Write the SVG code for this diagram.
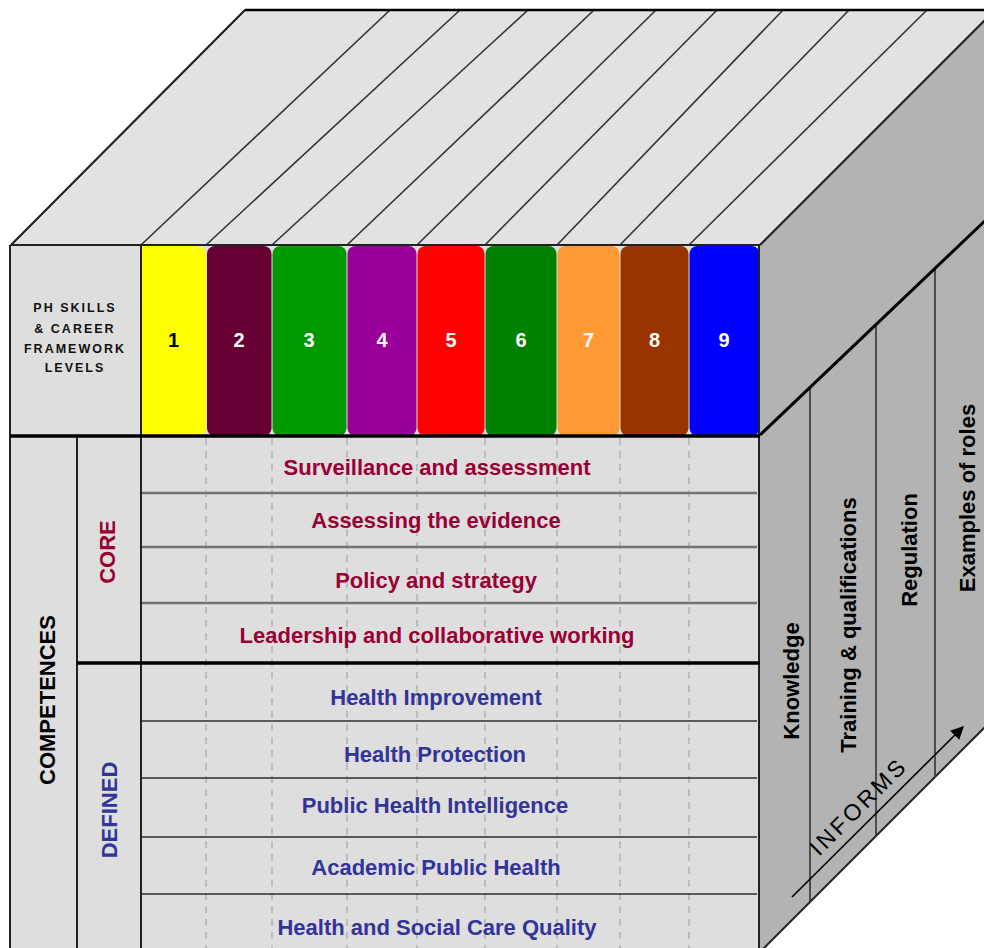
<svg xmlns="http://www.w3.org/2000/svg" width="984" height="948" viewBox="0 0 984 948">
<defs>
<style>
.face-top{fill:#e2e2e2;stroke:#222;stroke-width:1.5}
.face-right{fill:#b3b3b3;stroke:none}
.face-front{fill:#dedede;stroke:none}
.edge{stroke:#222;stroke-width:2;fill:none}
.thick{stroke:#000;stroke-width:3.5;fill:none}
.topline{stroke:#333;stroke-width:1.6;fill:none}
.coreline{stroke:#737373;stroke-width:2.6}
.defline{stroke:#2e2e2e;stroke-width:1.6}
.dash{stroke:#b3b3b3;stroke-width:1.5;stroke-dasharray:7 6}
.rline{stroke:#333;stroke-width:1.6}
.lvl{font-family:"Liberation Sans",Arial,sans-serif;font-weight:bold;font-size:20px;text-anchor:middle}
.hdr{font-family:"Liberation Sans",Arial,sans-serif;font-weight:bold;font-size:12.5px;letter-spacing:2px;text-anchor:middle;fill:#111}
.row{font-family:"Liberation Sans",Arial,sans-serif;font-weight:bold;font-size:22px;text-anchor:middle}
.side{font-family:"Liberation Sans",Arial,sans-serif;font-weight:bold;font-size:22px;text-anchor:middle;fill:#000}
.core{fill:#990033}
.def{fill:#333399}
.informs{font-family:"Liberation Sans",Arial,sans-serif;font-size:23px;letter-spacing:3px;text-anchor:middle;fill:#000}
</style>
<marker id="arrow" viewBox="0 0 10 10" refX="9" refY="5" markerWidth="15" markerHeight="13" orient="auto" markerUnits="userSpaceOnUse">
<path d="M0,0 L10,5 L0,10 z" fill="#000"/>
</marker>
</defs>
<rect x="0" y="0" width="984" height="948" fill="#ffffff"/>

<g id="cube-top">
<polygon class="face-top" points="11,245 245,10 995,10 760,245"/>
<line class="topline" x1="141" y1="245" x2="390" y2="10"/>
<line class="topline" x1="206" y1="245" x2="460" y2="10"/>
<line class="topline" x1="272" y1="245" x2="528" y2="10"/>
<line class="topline" x1="347" y1="245" x2="594" y2="10"/>
<line class="topline" x1="417" y1="245" x2="656" y2="10"/>
<line class="topline" x1="485" y1="245" x2="717" y2="10"/>
<line class="topline" x1="557" y1="245" x2="783" y2="10"/>
<line class="topline" x1="620" y1="245" x2="849" y2="10"/>
<line class="topline" x1="689" y1="245" x2="927" y2="10"/>
<line x1="245" y1="10" x2="990" y2="10" stroke="#000" stroke-width="2.5"/>
<line class="edge" x1="11" y1="245" x2="245" y2="10"/>
</g>

<g id="cube-right">
<polygon class="face-right" points="760,245 995,10 995,717 760,952"/>
<line class="edge" x1="760" y1="245" x2="995" y2="10" stroke-width="1.5"/>
<line class="edge" x1="760" y1="952" x2="995" y2="717" stroke-width="1.5"/>
<line class="rline" x1="810" y1="388" x2="810" y2="902"/>
<line class="rline" x1="876" y1="325" x2="876" y2="836"/>
<line class="rline" x1="935" y1="269" x2="935" y2="777"/>
<line x1="760" y1="435" x2="990" y2="216" stroke="#000" stroke-width="3"/>
</g>

<g id="front-face">
<rect class="face-front" x="11" y="245" width="749" height="703"/>
</g>

<g id="level-header">
<g id="header-label">
<rect x="11" y="245" width="130" height="191" fill="#dedede"/>
<text class="hdr" x="75" y="312">PH SKILLS</text>
<text class="hdr" x="75" y="333">&amp; CAREER</text>
<text class="hdr" x="75" y="353">FRAMEWORK</text>
<text class="hdr" x="75" y="372">LEVELS</text>
</g>
<g id="level-1"><rect x="141" y="246" width="65" height="190" rx="8" fill="#ffff00"/><rect x="141" y="246" width="10" height="190" fill="#ffff00"/><text class="lvl" x="173.5" y="347" fill="#000">1</text></g>
<g id="level-2"><rect x="207" y="246" width="64.5" height="190" rx="8" fill="#660033"/><text class="lvl" x="239" y="347" fill="#fff">2</text></g>
<g id="level-3"><rect x="272.5" y="246" width="74" height="190" rx="8" fill="#009900"/><text class="lvl" x="309" y="347" fill="#fff">3</text></g>
<g id="level-4"><rect x="347.5" y="246" width="69" height="190" rx="8" fill="#990099"/><text class="lvl" x="382" y="347" fill="#fff">4</text></g>
<g id="level-5"><rect x="417.5" y="246" width="67" height="190" rx="8" fill="#ff0000"/><text class="lvl" x="451" y="347" fill="#fff">5</text></g>
<g id="level-6"><rect x="485.5" y="246" width="71" height="190" rx="8" fill="#008000"/><text class="lvl" x="521" y="347" fill="#fff">6</text></g>
<g id="level-7"><rect x="557.5" y="246" width="62" height="190" rx="8" fill="#ff9933"/><text class="lvl" x="588.5" y="347" fill="#fff">7</text></g>
<g id="level-8"><rect x="620.5" y="246" width="68" height="190" rx="8" fill="#993300"/><text class="lvl" x="654.5" y="347" fill="#fff">8</text></g>
<g id="level-9"><rect x="689.5" y="246" width="70" height="190" rx="8" fill="#0000ff"/><text class="lvl" x="724" y="347" fill="#fff">9</text></g>
</g>

<g id="grid">
<line class="dash" x1="206" y1="438" x2="206" y2="948"/>
<line class="dash" x1="272" y1="438" x2="272" y2="948"/>
<line class="dash" x1="347" y1="438" x2="347" y2="948"/>
<line class="dash" x1="417" y1="438" x2="417" y2="948"/>
<line class="dash" x1="485" y1="438" x2="485" y2="948"/>
<line class="dash" x1="557" y1="438" x2="557" y2="948"/>
<line class="dash" x1="620" y1="438" x2="620" y2="948"/>
<line class="dash" x1="689" y1="438" x2="689" y2="948"/>
<line class="coreline" x1="141" y1="493" x2="757" y2="493"/>
<line class="coreline" x1="141" y1="547" x2="757" y2="547"/>
<line class="coreline" x1="141" y1="603" x2="757" y2="603"/>
<line class="defline" x1="141" y1="721" x2="757" y2="721"/>
<line class="defline" x1="141" y1="778" x2="757" y2="778"/>
<line class="defline" x1="141" y1="837" x2="757" y2="837"/>
<line class="defline" x1="141" y1="894" x2="757" y2="894"/>
<line class="edge" x1="11" y1="245" x2="760" y2="245" stroke-width="1.6"/>
<line class="edge" x1="10" y1="245" x2="10" y2="948"/>
<line class="edge" x1="141" y1="245" x2="141" y2="948"/>
<line class="edge" x1="77" y1="436" x2="77" y2="948"/>
<line class="edge" x1="759" y1="245" x2="759" y2="948"/>
<line class="thick" x1="10" y1="436" x2="760" y2="436"/>
<line class="thick" x1="77" y1="663" x2="760" y2="663"/>
</g>

<g id="group-labels">
<text class="side" x="55" y="700" transform="rotate(-90 55 700)" font-size="21">COMPETENCES</text>
<text class="side core" x="115" y="552" transform="rotate(-90 115 552)">CORE</text>
<text class="side def" x="117" y="810" transform="rotate(-90 117 810)">DEFINED</text>
</g>

<g id="core-competences">
<text class="row core" x="437" y="475">Surveillance and assessment</text>
<text class="row core" x="436" y="528">Assessing the evidence</text>
<text class="row core" x="436" y="588">Policy and strategy</text>
<text class="row core" x="437" y="643">Leadership and collaborative working</text>
</g>

<g id="defined-competences">
<text class="row def" x="436" y="705">Health Improvement</text>
<text class="row def" x="435" y="762">Health Protection</text>
<text class="row def" x="435" y="813">Public Health Intelligence</text>
<text class="row def" x="436" y="875">Academic Public Health</text>
<text class="row def" x="437" y="935">Health and Social Care Quality</text>
</g>

<g id="side-labels">
<text class="side" x="799" y="681" transform="rotate(-90 799 681)">Knowledge</text>
<text class="side" x="856" y="625" transform="rotate(-90 856 625)">Training &amp; qualifications</text>
<text class="side" x="917" y="550" transform="rotate(-90 917 550)">Regulation</text>
<text class="side" x="975" y="498" transform="rotate(-90 975 498)">Examples of roles</text>
</g>

<g id="connectors">
<line x1="792" y1="897" x2="963" y2="727" stroke="#000" stroke-width="1.6" marker-end="url(#arrow)"/>
<text class="informs" x="864" y="812" transform="rotate(-45 864 812)">INFORMS</text>
</g>
</svg>
